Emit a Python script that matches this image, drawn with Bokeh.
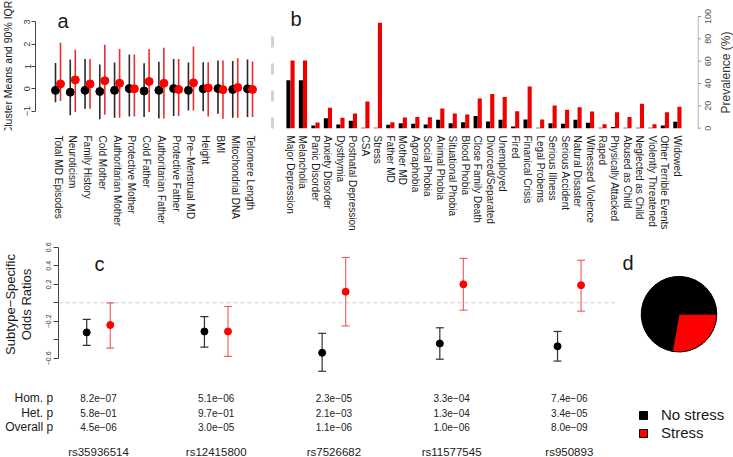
import math
from bokeh.plotting import figure
from bokeh.models import (ColumnDataSource, LinearAxis, FixedTicker, Range1d,
                          Whisker, TeeHead, Span, Legend, LegendItem)
from bokeh.layouts import row, column
from bokeh.embed import file_html
from bokeh.resources import INLINE
from bokeh.core.properties import value
from bokeh.transform import cumsum

FONT = "Liberation Sans"
TXT = "#1a1a1a"

# ---------------- data ----------------
# panel a: cluster means and 90% IQR
a_traits = ["Total MD Episodes", "Neuroticism", "Family History", "Cold Mother",
            "Authoritarian Mother", "Protective Mother", "Cold Father",
            "Authoritarian Father", "Protective Father", "Pre\u2212Menstrual MD",
            "Height", "BMI", "Mitochondrial DNA", "Telomere Length"]
a_nostress_mean = [-0.07, -0.15, -0.07, -0.12, -0.07, 0.01, -0.10, -0.07, 0.01, -0.07, 0.00, 0.01, -0.03, 0.00]
a_nostress_low = [-0.60, -1.19, -0.90, -1.37, -1.30, -1.24, -1.27, -1.33, -1.22, -0.97, -1.01, -1.12, -1.30, -1.27]
a_nostress_high = [1.16, 1.31, 1.34, 1.09, 1.18, 1.54, 1.15, 1.21, 1.34, 1.18, 1.19, 1.27, 1.25, 1.31]
a_stress_mean = [0.22, 0.40, 0.22, 0.36, 0.25, 0.00, 0.33, 0.25, -0.03, 0.27, 0.04, -0.04, 0.06, -0.03]
a_stress_low = [-0.55, -1.04, -0.90, -1.16, -1.30, -1.24, -1.04, -1.33, -1.22, -0.97, -1.24, -1.34, -1.30, -1.27]
a_stress_high = [2.06, 1.75, 1.34, 1.97, 1.79, 1.54, 1.79, 1.84, 1.34, 1.90, 1.19, 1.27, 1.37, 1.22]

# panel b: prevalence (%)
b_items = ["Major Depression", "Melancholia", "Panic Disorder", "Anxiety Disorder", "Dysthymia",
           "Postnatal Depression", "CSA", "Stress", "Father MD", "Mother MD", "Agoraphobia",
           "Social Phobia", "Animal Phobia", "Situational Phobia", "Blood Phobia",
           "Close Family Death", "Divorced/Separated", "Unemployed", "Fired", "Finanical Crisis",
           "Legal Probems", "Serious Illness", "Serious Accident", "Natural Disaster",
           "Witnessed Violence", "Raped", "Physically Attacked", "Abused as Child",
           "Neglected as Child", "Violently Threatened", "Other Terrible Events", "Widowed"]
b_nostress = [43, 43, 2.4, 9, 3.3, 6.6, 0.4, 0.4, 3, 4.5, 3.9, 3.3, 7.5, 4.5, 5.4, 11, 6, 7.6,
              1.5, 7.7, 0.4, 4.5, 3.9, 7.6, 4.8, 0.4, 1.0, 0.4, 0.4, 0.4, 2.4, 5.7]
b_stress = [60.6, 60.6, 5, 18.2, 9.3, 13.1, 24, 94.3, 5.4, 9.6, 10, 9.7, 17.6, 13.1, 12.2, 26.6,
            30.7, 27.9, 15.2, 37.3, 7.7, 20.3, 16.5, 18.8, 15, 3.5, 14.3, 10, 21.8, 3.5, 14.3, 19.3]
b_ticks = [0, 20, 40, 60, 80, 100]

# panel c: subtype-specific odds ratios
c_snps = ["rs35936514", "rs12415800", "rs7526682", "rs11577545", "rs950893"]
c_nostress_or = [-0.32, -0.31, -0.54, -0.44, -0.47]
c_nostress_low = [-0.46, -0.48, -0.74, -0.61, -0.63]
c_nostress_high = [-0.18, -0.15, -0.33, -0.27, -0.31]
c_stress_or = [-0.24, -0.31, 0.12, 0.20, 0.19]
c_stress_low = [-0.49, -0.58, -0.25, -0.08, -0.09]
c_stress_high = [0.0, -0.04, 0.49, 0.48, 0.46]
c_row_names = ["Hom. p", "Het. p", "Overall p"]
c_hom_p = ["8.2e\u221207", "5.1e\u221206", "2.3e\u221205", "3.3e\u221204", "7.4e\u221206"]
c_het_p = ["5.8e\u221201", "9.7e\u221201", "2.1e\u221203", "1.3e\u221204", "3.4e\u221205"]
c_overall_p = ["4.5e\u221206", "3.0e\u221205", "1.1e\u221206", "1.0e\u221206", "8.0e\u221209"]

# panel d: subtype shares
d_groups = ["No stress", "Stress"]
d_share = [72.2, 27.8]
d_colors = ["black", "red"]

# ------------- layout (page pixels) -------------
TOP_H = 240
C1_H, C2_H = 145, 72
BOT_H = C1_H + C2_H
AL_W, A_W = 16, 246
B_AXIS = 697                      # page x of panel b's right axis
B_W = B_AXIS - AL_W - A_W
BL_W = 733 - B_AXIS
CL_W, C1_W = 40, 575
C_W = CL_W + C1_W
D_W = 733 - C_W


def base_fig(w, h, xr, yr, fl=0, fr=None, ft=0, fb=None):
    fr = w if fr is None else fr
    fb = h if fb is None else fb
    return figure(width=w, height=h,
                  x_range=xr if isinstance(xr, Range1d) else Range1d(*xr),
                  y_range=yr if isinstance(yr, Range1d) else Range1d(*yr),
                  x_axis_type=None, y_axis_type=None, toolbar_location=None,
                  output_backend="svg", min_border_left=fl, min_border_right=w - fr,
                  min_border_top=ft, min_border_bottom=h - fb,
                  outline_line_color=None, background_fill_color="white",
                  border_fill_color="white")


class Frame:
    """maps local pixel positions of a figure's frame onto data values"""
    def __init__(self, w, h, fl, fr, ft, fb, x_ref, px_ref, sx, y_ref, py_ref, sy):
        self.fl, self.ft, self.sx, self.sy = fl, ft, sx, sy
        self.x0 = x_ref - (px_ref - fl) / sx
        self.x1 = self.x0 + (fr - fl) / sx
        self.y1 = y_ref + (py_ref - ft) / sy
        self.y0 = self.y1 - (fb - ft) / sy
        self.fig = base_fig(w, h, (self.x0, self.x1), (self.y0, self.y1), fl, fr, ft, fb)

    def x(self, px):
        return self.x0 + (px - self.fl) / self.sx

    def y(self, py):
        return self.y1 - (py - self.ft) / self.sy


def ftext(fr, p, txt, px, py, size, align="left", baseline="alphabetic", angle=0.0,
          color=TXT):
    p.text(x=[fr.x(px)], y=[fr.y(py)], text=[txt], angle=angle, text_font=value(FONT),
           text_font_size=size, text_color=color, text_align=align,
           text_baseline=baseline)


def cat_axis(labels, fs):
    return LinearAxis(ticker=FixedTicker(ticks=list(range(1, len(labels) + 1))),
                      major_label_overrides={i + 1: t for i, t in enumerate(labels)},
                      major_label_orientation="vertical", axis_line_color=None,
                      major_tick_line_color=None, minor_tick_line_color=None,
                      major_tick_out=0, major_tick_in=0, major_label_standoff=5,
                      major_label_text_font=FONT, major_label_text_font_size=fs,
                      major_label_text_color=TXT)


# ---------------- panel a ----------------
OXA = AL_W
fa = Frame(A_W, TOP_H, 35 - OXA, A_W, 0, 130, 1, 57.5 - OXA, 14.77, 0, 88.3, 22.3)
pa = fa.fig
idx_a = list(range(1, len(a_traits) + 1))
sa0 = ColumnDataSource(dict(x=[i - 0.17 for i in idx_a], m=a_nostress_mean,
                            lo=a_nostress_low, hi=a_nostress_high))
sa1 = ColumnDataSource(dict(x=[i + 0.17 for i in idx_a], m=a_stress_mean,
                            lo=a_stress_low, hi=a_stress_high))
pa.segment('x', 'lo', 'x', 'hi', source=sa0, line_color="#2a2a2a", line_width=1.6)
pa.scatter('x', 'm', source=sa0, size=8, fill_color="black", line_color="black")
pa.segment('x', 'lo', 'x', 'hi', source=sa1, line_color="#e83030", line_width=1.6)
pa.scatter('x', 'm', source=sa1, size=8, fill_color="red", line_color="red")
ya = LinearAxis(ticker=FixedTicker(ticks=[-1, 0, 1, 2, 3]), bounds=(-1, 3),
                major_label_overrides={-1: "\u22121"}, major_label_orientation="parallel",
                major_tick_out=4, major_tick_in=0, major_label_standoff=1,
                axis_line_color="#444444", major_tick_line_color="#444444",
                minor_tick_line_color=None, major_label_text_font=FONT,
                major_label_text_font_size="9px", major_label_text_color="#333333")
pa.add_layout(ya, "left")
pa.add_layout(cat_axis(a_traits, "10px"), "below")
ftext(fa, pa, "a", 57 - OXA, 20, "20px")

# y-axis title of panel a, in a narrow strip sharing panel a's vertical scale
pal = base_fig(AL_W, TOP_H, (0, AL_W), pa.y_range, 0, AL_W, 0, 130)
pal.text(x=[7], y=[fa.y(67)], text=["Cluster Means and 90% IQR"], angle=math.pi / 2,
         text_font=value(FONT), text_font_size="10.5px", text_color=TXT,
         text_align="center", text_baseline="middle")

# ---------------- panel b ----------------
OXB = AL_W + A_W
fb = Frame(B_W, TOP_H, 272 - OXB, B_W, 0, 130, 1, 290 - OXB, 12.48, 0, 127.7, 1.117)
pb = fb.fig
idx_b = list(range(1, len(b_items) + 1))
sb0 = ColumnDataSource(dict(x=[i - 0.165 for i in idx_b], v=b_nostress))
sb1 = ColumnDataSource(dict(x=[i + 0.165 for i in idx_b], v=b_stress))
pb.vbar(x='x', top='v', bottom=0, width=0.33, source=sb0, fill_color="black", line_color=None)
pb.vbar(x='x', top='v', bottom=0, width=0.33, source=sb1, fill_color="#ee0000", line_color=None)
lb = LinearAxis(ticker=FixedTicker(ticks=[]), bounds=(0, 86), axis_line_color="#d2d2d2",
                axis_line_width=3, axis_line_dash="11 16", major_tick_line_color=None,
                minor_tick_line_color=None)
pb.add_layout(lb, "left")
pb.add_layout(cat_axis(b_items, "10px"), "below")
ftext(fb, pb, "b", 290 - OXB, 18.5, "20px")

# right-hand axis of panel b (line, ticks, labels, title) sharing panel b's vertical scale
pbl = base_fig(BL_W, TOP_H, (0, BL_W), pb.y_range, 0, BL_W, 0, 130)
pbl.segment(x0=[0.5], y0=[b_ticks[0]], x1=[0.5], y1=[b_ticks[-1]], line_color="#999999",
            line_width=1)
pbl.segment(x0=[0.5] * len(b_ticks), y0=b_ticks, x1=[3.5] * len(b_ticks), y1=b_ticks,
            line_color="#999999", line_width=1)
pbl.text(x=[707.5 - B_AXIS] * len(b_ticks), y=b_ticks, text=[str(t) for t in b_ticks],
         angle=math.pi / 2, text_font=value(FONT), text_font_size="9px",
         text_color="#555555", text_align="center", text_baseline="middle")
pbl.text(x=[725 - B_AXIS], y=[fb.y(72)], text=["Prevalence (%)"], angle=math.pi / 2,
         text_font=value(FONT), text_font_size="12px", text_color="#333333",
         text_align="center", text_baseline="middle")

# ---------------- panel c ----------------
OY = TOP_H
fcl = Frame(CL_W, C1_H, 0, CL_W, 0, C1_H, 0, 0, 1, 0, 0, 1)
for txt, rx in (("Subtype\u2212Specific", 10), ("Odds Ratios", 26)):
    ftext(fcl, fcl.fig, txt, rx, 304 - OY, "13px", align="center", baseline="middle",
          angle=math.pi / 2)

fc = Frame(C1_W, C1_H, 58 - CL_W, C1_W, 0, C1_H, 1, 98 - CL_W, 117.7, 0, 302.3 - OY, 92.5)
pc = fc.fig
idx_c = list(range(1, len(c_snps) + 1))
pc.add_layout(Span(location=0, dimension="width", line_color="#cccccc", line_dash="4 3",
                   line_width=1, level="underlay"))
sc0 = ColumnDataSource(dict(x=[i - 0.1 for i in idx_c], m=c_nostress_or,
                            lo=c_nostress_low, hi=c_nostress_high))
sc1 = ColumnDataSource(dict(x=[i + 0.1 for i in idx_c], m=c_stress_or,
                            lo=c_stress_low, hi=c_stress_high))
for src, col, alpha in ((sc0, "#333333", 1.0), (sc1, "#ee3333", 0.75)):
    pc.add_layout(Whisker(source=src, base="x", lower="lo", upper="hi", dimension="height",
                          line_color=col, line_alpha=alpha, line_width=1.2, level="underlay",
                          upper_head=TeeHead(size=8, line_color=col, line_alpha=alpha, line_width=1.2),
                          lower_head=TeeHead(size=8, line_color=col, line_alpha=alpha, line_width=1.2)))
pc.scatter('x', 'm', source=sc0, size=7, fill_color="black", line_color="black")
pc.scatter('x', 'm', source=sc1, size=7, fill_color="red", line_color="red")
yc = LinearAxis(ticker=FixedTicker(ticks=[-0.6, -0.2, 0.2, 0.4, 0.6], minor_ticks=[-0.4, 0.0]),
                bounds=(-0.6, 0.6), major_label_orientation="parallel",
                major_tick_out=5, major_tick_in=0, minor_tick_out=5, minor_tick_in=0,
                major_label_standoff=2, axis_line_color="#444444",
                major_tick_line_color="#444444", minor_tick_line_color="#444444",
                major_label_text_font=FONT, major_label_text_font_size="7px",
                major_label_text_color="#333333")
pc.add_layout(yc, "left")
ftext(fc, pc, "c", 94 - CL_W, 263 - OY, "20px")

OY2 = OY + C1_H
fc2 = Frame(C_W, C2_H, 0, C_W, 0, C2_H, 1, 98, 117.7, 0, 0, 1)
pc2 = fc2.fig
for name, vals, ry in zip(c_row_names, (c_hom_p, c_het_p, c_overall_p), (397.7, 412.7, 426.7)):
    ftext(fc2, pc2, name, 52.7, ry - OY2, "12px", align="right", baseline="middle")
    pc2.text(x=idx_c, y=[fc2.y(ry - OY2)] * len(idx_c), text=vals, text_font=value(FONT),
             text_font_size="10px", text_color="#222222", text_align="center",
             text_baseline="middle")
pc2.text(x=idx_c, y=[fc2.y(451.5 - OY2)] * len(idx_c), text=c_snps, text_font=value(FONT),
         text_font_size="11.5px", text_color="#222222", text_align="center",
         text_baseline="middle")

# ---------------- panel d ----------------
R = 37.8
fd = Frame(D_W, BOT_H, 0, D_W, 0, BOT_H, 0, 678.5 - C_W, R, 0, 313.7 - OY, R)
pdp = fd.fig
tot = sum(d_share)
sd = ColumnDataSource(dict(group=d_groups, angle=[s / tot * 2 * math.pi for s in d_share],
                           color=d_colors))
wr = pdp.wedge(x=0, y=0, radius=1, start_angle=cumsum('angle', include_zero=True),
               end_angle=cumsum('angle'), fill_color='color', line_color="black",
               line_width=1, source=sd)
leg = Legend(items=[LegendItem(label=g, renderers=[wr], index=i) for i, g in enumerate(d_groups)],
             location=(638 - C_W, BOT_H - (433 - OY) - 8.5),
             glyph_width=10, glyph_height=10, label_standoff=13, label_height=18, spacing=0,
             padding=0, margin=0, border_line_color=None, background_fill_alpha=0,
             label_text_font=FONT, label_text_font_size="15px", label_text_color=TXT)
pdp.add_layout(leg)
ftext(fd, pdp, "d", 622 - C_W, 262 - OY, "20px")

top = row(pal, pa, pb, pbl, spacing=0)
c_block = column(row(fcl.fig, pc, spacing=0), pc2, spacing=0)
bottom = row(c_block, pdp, spacing=0)
layout = column(top, bottom, spacing=0)
open("out.html", "w").write(file_html(layout, INLINE))
